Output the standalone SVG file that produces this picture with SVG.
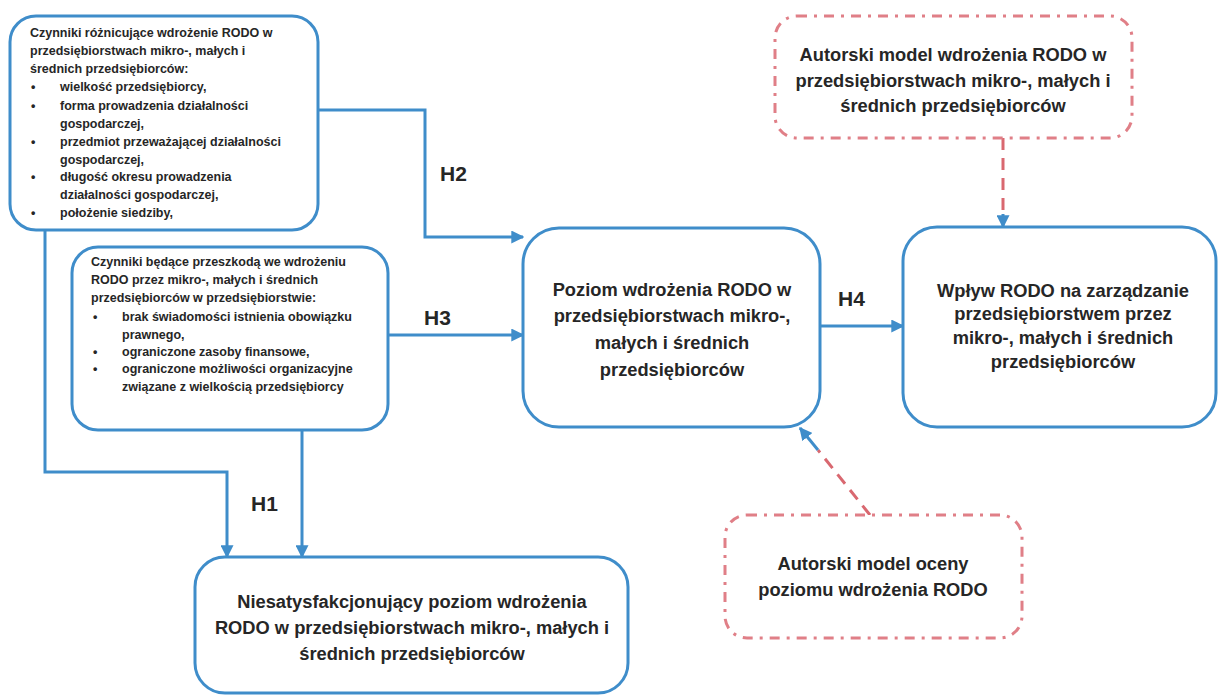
<svg xmlns="http://www.w3.org/2000/svg" width="1218" height="696" viewBox="0 0 1218 696">
<style>
.box{fill:#fff;stroke:#3f8dca;stroke-width:3}
.dbox{fill:#fff;stroke:#e07f87;stroke-width:3;stroke-dasharray:10 7 3 7}
.con{fill:none;stroke:#3f8dca;stroke-width:3}
.dcon{fill:none;stroke:#d96870;stroke-width:3;stroke-dasharray:12 8}
text{font-family:"Liberation Sans",Arial,sans-serif;font-weight:bold;fill:#262626}
.sm{font-size:12.5px}
.md{font-size:18.3px}
.lbl{font-size:21px}
.c{text-anchor:middle}
</style>
<defs>
<marker id="arr" viewBox="0 0 10 10" refX="9" refY="5" markerWidth="13" markerHeight="13" markerUnits="userSpaceOnUse" orient="auto">
<path d="M0,0 L10,5 L0,10 z" fill="#3f8dca"/>
</marker>
</defs>
<rect width="1218" height="696" fill="#fff"/>
<g id="connectors">
<path class="con" d="M318,110 H425 V237 H523" marker-end="url(#arr)"/>
<path class="con" d="M388,335 H523" marker-end="url(#arr)"/>
<path class="con" d="M820,326 H903" marker-end="url(#arr)"/>
<path class="con" d="M45,230 V472 H227 V557" marker-end="url(#arr)"/>
<path class="con" d="M302,430 V557" marker-end="url(#arr)"/>
<path class="dcon" d="M1003,138 V214"/>
<path class="con" d="M1003,214 V227" marker-end="url(#arr)"/>
<path class="dcon" d="M870,515 L818,450"/>
<path class="con" d="M818,450 L800,428" marker-end="url(#arr)"/>
<text class="lbl" x="440" y="181">H2</text>
<text class="lbl" x="424" y="325">H3</text>
<text class="lbl" x="838" y="306">H4</text>
<text class="lbl" x="251" y="511">H1</text>
</g>
<g id="n1">
<rect class="box" x="10" y="16" width="308" height="214" rx="26"/>
<text class="sm" x="30" y="37">Czynniki różnicujące wdrożenie RODO w</text>
<text class="sm" x="30" y="55">przedsiębiorstwach mikro-, małych i</text>
<text class="sm" x="30" y="73">średnich przedsiębiorców:</text>
<text class="sm" x="31" y="91">•</text><text class="sm" x="60" y="91">wielkość przedsiębiorcy,</text>
<text class="sm" x="31" y="110">•</text><text class="sm" x="60" y="110">forma prowadzenia działalności</text>
<text class="sm" x="60" y="128">gospodarczej,</text>
<text class="sm" x="31" y="146">•</text><text class="sm" x="60" y="146">przedmiot przeważającej działalności</text>
<text class="sm" x="60" y="164">gospodarczej,</text>
<text class="sm" x="31" y="181">•</text><text class="sm" x="60" y="181">długość okresu prowadzenia</text>
<text class="sm" x="60" y="199">działalności gospodarczej,</text>
<text class="sm" x="31" y="217">•</text><text class="sm" x="60" y="217">położenie siedziby,</text>
</g>
<g id="n2">
<rect class="box" x="72" y="247" width="316" height="183" rx="26"/>
<text class="sm" x="91" y="266">Czynniki będące przeszkodą we wdrożeniu</text>
<text class="sm" x="91" y="284">RODO przez mikro-, małych i średnich</text>
<text class="sm" x="91" y="302">przedsiębiorców w przedsiębiorstwie:</text>
<text class="sm" x="93" y="321">•</text><text class="sm" x="122" y="321">brak świadomości istnienia obowiązku</text>
<text class="sm" x="122" y="339">prawnego,</text>
<text class="sm" x="93" y="356">•</text><text class="sm" x="122" y="356">ograniczone zasoby finansowe,</text>
<text class="sm" x="93" y="373">•</text><text class="sm" x="122" y="373">ograniczone możliwości organizacyjne</text>
<text class="sm" x="122" y="391">związane z wielkością przedsiębiorcy</text>
</g>
<g id="n3">
<rect class="box" x="523" y="228" width="297" height="199" rx="36"/>
<text class="md c" x="672" y="296">Poziom wdrożenia RODO w</text>
<text class="md c" x="672" y="322">przedsiębiorstwach mikro-,</text>
<text class="md c" x="672" y="349">małych i średnich</text>
<text class="md c" x="672" y="376">przedsiębiorców</text>
</g>
<g id="n4">
<rect class="box" x="903" y="227" width="313" height="200" rx="34"/>
<text class="md c" x="1063" y="297">Wpływ RODO na zarządzanie</text>
<text class="md c" x="1063" y="320">przedsiębiorstwem przez</text>
<text class="md c" x="1063" y="344">mikro-, małych i średnich</text>
<text class="md c" x="1063" y="368">przedsiębiorców</text>
</g>
<g id="n5">
<rect class="box" x="195" y="557" width="433" height="136" rx="30"/>
<text class="md c" x="412" y="608">Niesatysfakcjonujący poziom wdrożenia</text>
<text class="md c" x="412" y="634">RODO w przedsiębiorstwach mikro-, małych i</text>
<text class="md c" x="412" y="660">średnich przedsiębiorców</text>
</g>
<g id="n6">
<rect class="dbox" x="775" y="16" width="357" height="122" rx="22"/>
<text class="md c" x="953" y="61">Autorski model wdrożenia RODO w</text>
<text class="md c" x="953" y="87">przedsiębiorstwach mikro-, małych i</text>
<text class="md c" x="953" y="112">średnich przedsiębiorców</text>
</g>
<g id="n7">
<rect class="dbox" x="725" y="515" width="297" height="123" rx="22"/>
<text class="md c" x="873" y="570">Autorski model oceny</text>
<text class="md c" x="873" y="596">poziomu wdrożenia RODO</text>
</g>
</svg>
